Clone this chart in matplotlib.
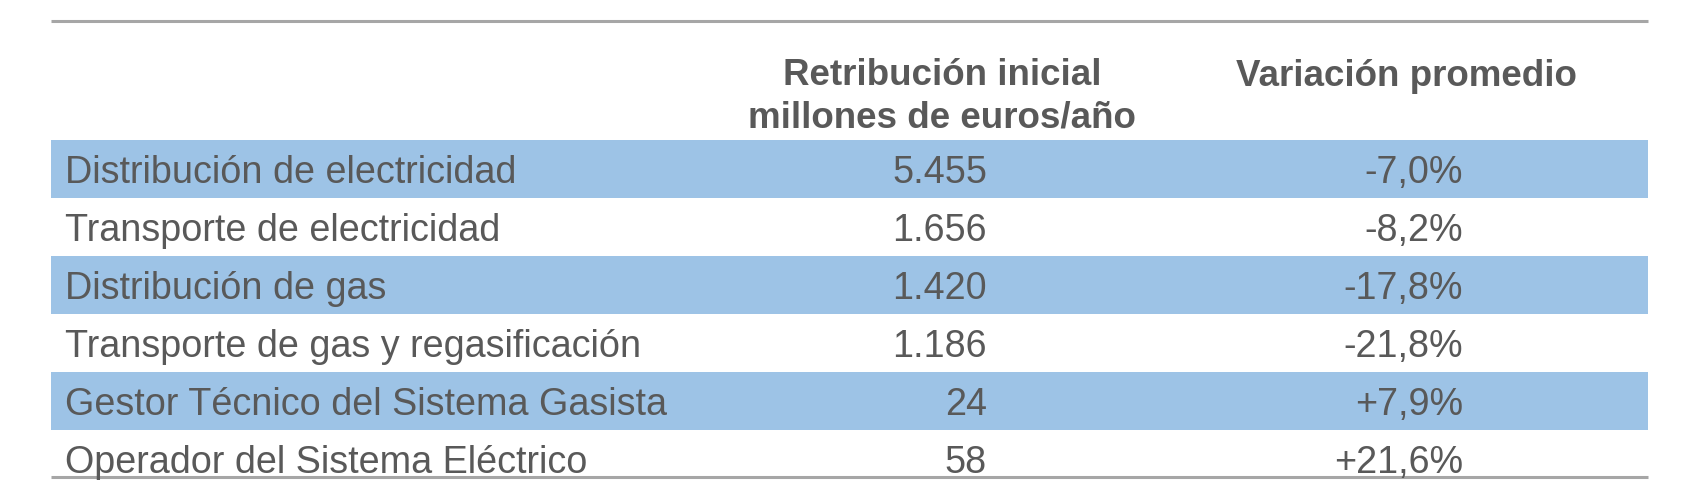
import matplotlib.pyplot as plt
from matplotlib.patches import Rectangle

plt.rcParams['font.family'] = ['Liberation Sans', 'DejaVu Sans']

# table content
header_retrib = ["Retribución inicial", "millones de euros/año"]
header_var = "Variación promedio"
actividades = [
    "Distribución de electricidad",
    "Transporte de electricidad",
    "Distribución de gas",
    "Transporte de gas y regasificación",
    "Gestor Técnico del Sistema Gasista",
    "Operador del Sistema Eléctrico",
]
retribucion = ["5.455", "1.656", "1.420", "1.186", "24", "58"]
variacion = ["-7,0%", "-8,2%", "-17,8%", "-21,8%", "+7,9%", "+21,6%"]

W, H = 1706, 481
fig = plt.figure(figsize=(W / 100, H / 100), dpi=100)
ax = fig.add_axes([0, 0, 1, 1])
ax.set_xlim(0, W)
ax.set_ylim(H, 0)
ax.axis('off')

txt = '#595959'
band = '#9DC3E6'
rule = '#A6A6A6'
x0, x1 = 51, 1648
row_top, row_h = 141, 58
fs_head = 26.5
fs = 27.2

# top and bottom rules
ax.plot([x0, x1], [22, 22], color=rule, lw=2.2, solid_capstyle='butt')
ax.plot([x0, x1], [478, 478], color=rule, lw=2.2, solid_capstyle='butt')

# header
for k, line in enumerate(header_retrib):
    ax.text(942, 85 + 43 * k, line, ha='center', va='baseline', fontsize=fs_head,
            color=txt, fontweight='bold')
ax.text(1406, 86, header_var, ha='center', va='baseline', fontsize=fs_head,
        color=txt, fontweight='bold')

# rows
for i, (name, r, v) in enumerate(zip(actividades, retribucion, variacion)):
    top = row_top + i * row_h
    if i % 2 == 0:
        ax.add_patch(Rectangle((x0, top), x1 - x0, row_h, color=band, lw=0, zorder=0))
    yb = top + 42
    ax.text(65, yb, name, ha='left', va='baseline', fontsize=fs, color=txt)
    ax.text(987, yb, r, ha='right', va='baseline', fontsize=fs, color=txt)
    ax.text(1463, yb, v, ha='right', va='baseline', fontsize=fs, color=txt)

fig.savefig('out.png', dpi=100, facecolor='white')
